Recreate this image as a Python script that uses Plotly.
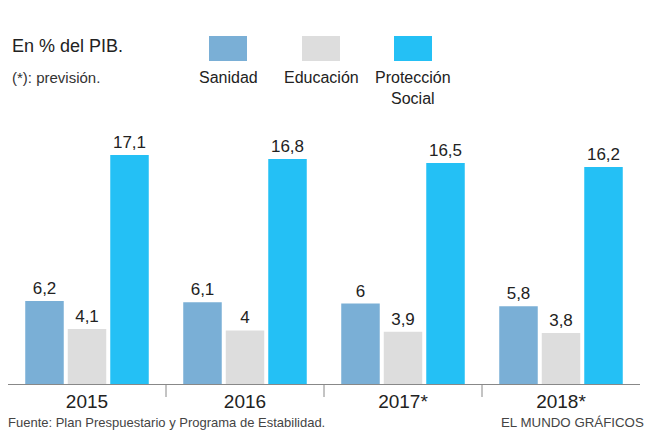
import plotly.graph_objects as go

categories = ["2015", "2016", "2017*", "2018*"]
sanidad = [6.2, 6.1, 6, 5.8]
educacion = [4.1, 4, 3.9, 3.8]
proteccion = [17.1, 16.8, 16.5, 16.2]
series_names = ["Sanidad", "Educación", "Protección<br>Social"]
colors = ["#7AAFD6", "#DDDDDD", "#24C0F5"]

FONT = "Liberation Sans, Arial, sans-serif"

# page body offset (browser default margin)
OFF = 8
W, H = 658, 444
PL, PR, PT, PB = 8, 640, 110, 384  # plot area in screen pixels


def px(x):
    return (x - PL) / (PR - PL)


def py(y):
    return (PB - y) / (PB - PT)


def fmt(v):
    return f"{v:g}".replace(".", ",")


fig = go.Figure()
for name, vals, col in zip(series_names, [sanidad, educacion, proteccion], colors):
    fig.add_trace(go.Bar(
        x=categories, y=vals, name=name, marker=dict(color=col, line=dict(width=0)),
        text=[fmt(v) for v in vals], textposition="outside",
        textfont=dict(family=FONT, size=17, color="#222222"),
        cliponaxis=False, showlegend=False,
    ))

fig.update_layout(
    width=W, height=H,
    margin=dict(l=PL - OFF, r=W - (PR - OFF), t=PT - OFF, b=H - (PB - OFF), pad=0),
    paper_bgcolor="white", plot_bgcolor="white",
    barmode="group", bargap=0.193, bargroupgap=0.094,
    font=dict(family=FONT, color="#222222"),
    xaxis=dict(showline=True, linecolor="#888888", linewidth=1, ticks="",
               tickfont=dict(family=FONT, size=19, color="#222222"),
               ticklabelstandoff=0,
               showgrid=False, zeroline=False),
    yaxis=dict(range=[0, 20.45], visible=False, showgrid=False),
)

# separator ticks between categories
for b in [0.5, 1.5, 2.5]:
    fig.add_shape(type="line", xref="x", yref="paper", x0=b, x1=b, y0=0, y1=py(397),
                  line=dict(color="#888888", width=1))

# custom legend
legend_boxes = [(209, 247), (302, 340), (394, 432)]
legend_centers = [228, 321, 413]
for (x0, x1), cx, name, col in zip(legend_boxes, legend_centers, series_names, colors):
    fig.add_shape(type="rect", xref="paper", yref="paper",
                  x0=px(x0), x1=px(x1), y0=py(61), y1=py(36),
                  fillcolor=col, line=dict(width=0))
    fig.add_annotation(xref="paper", yref="paper", x=px(cx), y=py(67), text=name,
                       showarrow=False, xanchor="center", yanchor="top",
                       font=dict(family=FONT, size=16, color="#222222"))

fig.add_annotation(xref="paper", yref="paper", x=px(10), y=py(46), text="En % del PIB.",
                   showarrow=False, xanchor="left", yanchor="middle",
                   font=dict(family=FONT, size=18, color="#222222"))
fig.add_annotation(xref="paper", yref="paper", x=px(10), y=py(77), text="(*): previsión.",
                   showarrow=False, xanchor="left", yanchor="middle",
                   font=dict(family=FONT, size=15, color="#333333"))
fig.add_annotation(xref="paper", yref="paper", x=px(6), y=py(422),
                   text="Fuente: Plan Prespuestario y Programa de Estabilidad.",
                   showarrow=False, xanchor="left", yanchor="middle",
                   font=dict(family=FONT, size=13, color="#444444"))
fig.add_annotation(xref="paper", yref="paper", x=px(646), y=py(422),
                   text="EL MUNDO GRÁFICOS",
                   showarrow=False, xanchor="right", yanchor="middle",
                   font=dict(family=FONT, size=13.3, color="#444444"))

fig.write_html("out.html")
